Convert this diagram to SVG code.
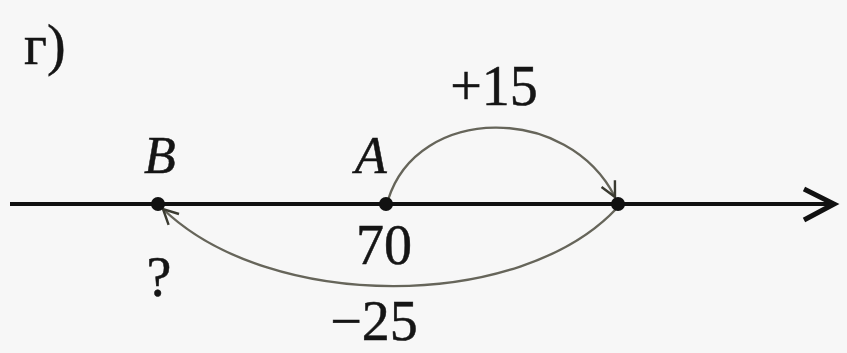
<svg xmlns="http://www.w3.org/2000/svg" width="847" height="353" viewBox="0 0 847 353">
  <style>
    .t { font-family: "Liberation Serif", "DejaVu Serif", serif; fill: #151515; stroke: #151515; stroke-width: 0.5; }
    .num { font-size: 56px; text-anchor: middle; }
    .it { font-size: 52px; font-style: italic; text-anchor: middle; }
    .arc { fill: none; stroke: #66655a; stroke-width: 2.4; }
    .dot { fill: #111; }
  </style>
  <defs>
    <marker id="open" viewBox="0 0 12 12" refX="11" refY="6" markerWidth="18" markerHeight="18" markerUnits="userSpaceOnUse" orient="auto">
      <path d="M1,1 L11,6 L1,11" fill="none" stroke="#3a3a30" stroke-width="1.6"/>
    </marker>
  </defs>
  <rect width="847" height="353" fill="#f7f7f7"/>
  <text class="t" x="24" y="64" font-size="56">г)</text>
  <g id="axis">
    <line x1="10" y1="204" x2="834" y2="204" stroke="#111" stroke-width="4"/>
    <polyline points="804,189 834,204 804,220" fill="none" stroke="#111" stroke-width="5" stroke-linejoin="miter"/>
  </g>
  <g id="connectors">
    <path class="arc" d="M388,200 C418,104 568,104 615,197" marker-end="url(#open)"/>
    <path class="arc" d="M617,208 C520,312 270,312 163,209" marker-end="url(#open)"/>
  </g>
  <g id="pointB">
    <circle class="dot" cx="158" cy="204" r="7"/>
    <text class="t it" x="160" y="173">B</text>
    <text class="t num" x="159" y="296">?</text>
  </g>
  <g id="pointA">
    <circle class="dot" cx="386" cy="204" r="7"/>
    <text class="t it" x="371" y="173">A</text>
    <text class="t num" x="384" y="264">70</text>
  </g>
  <g id="pointC">
    <circle class="dot" cx="618" cy="204" r="7"/>
  </g>
  <g id="labels">
    <text class="t num" x="494" y="105">+15</text>
    <text class="t num" x="374" y="340">−25</text>
  </g>
</svg>
